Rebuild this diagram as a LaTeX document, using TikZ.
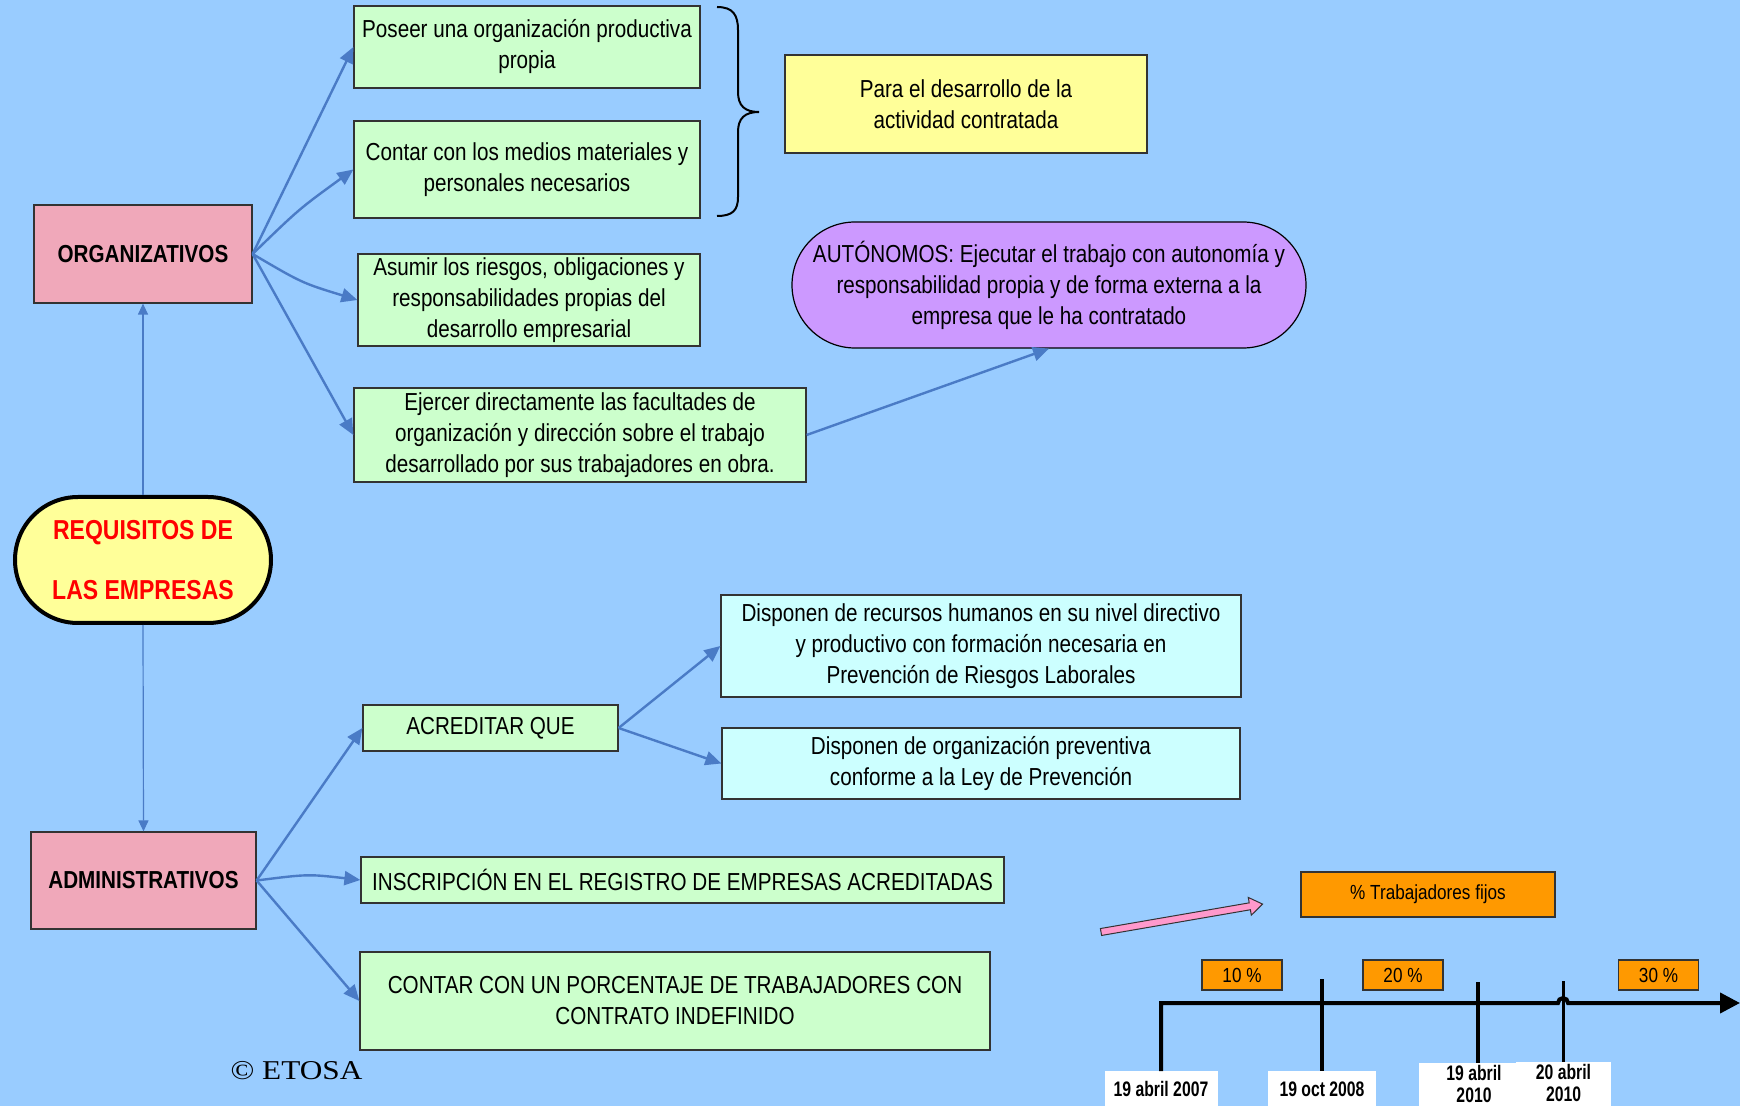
\documentclass[tikz,border=0pt]{standalone}
\usepackage{fontspec}
\setmainfont{Liberation Sans}[FakeStretch=0.84]
\newfontfamily\datefont{Liberation Sans}[FakeStretch=0.75]
\newfontfamily\etosafont{Liberation Serif}[FakeStretch=1.15]
\usetikzlibrary{arrows.meta}
\definecolor{bgblue}{HTML}{99CCFF}
\definecolor{pinkbox}{HTML}{F0A8BA}
\definecolor{greenbox}{HTML}{CCFFCC}
\definecolor{yellowbox}{HTML}{FFFF99}
\definecolor{cyanbox}{HTML}{CCFFFF}
\definecolor{purplebox}{HTML}{CC99FF}
\definecolor{orangebox}{HTML}{FF9900}
\definecolor{arrowblue}{HTML}{4A7BC6}
\definecolor{pinkarrow}{HTML}{FF99CC}
\begin{document}
\begin{tikzpicture}[x=0.5pt,y=-0.5pt,
  box/.style={draw=black!80, line width=0.6pt, align=center, inner sep=0pt,
    font=\fontsize{12.3}{15.5}\selectfont},
  gbox/.style={box, fill=greenbox},
  cbox/.style={box, fill=cyanbox},
  pbox/.style={box, fill=pinkbox, font=\fontsize{12.3}{15.5}\selectfont\bfseries},
  obox/.style={box, fill=orangebox, font=\fontsize{10.2}{12}\selectfont},
  datebox/.style={fill=white, draw=none, inner sep=0pt, anchor=north},
  datetext/.style={inner sep=0pt, align=center, font=\datefont\fontsize{10.5}{11}\selectfont\bfseries},
  link/.style={draw=arrowblue, line width=1.2pt, -{Triangle[length=8pt,width=7pt]}},
  vlink/.style={draw=arrowblue, line width=0.6pt, -{Triangle[length=5.5pt,width=5pt]}},
  tline/.style={draw=black, line width=2pt},
  tick/.style={draw=black, line width=1.6pt},
]
\useasboundingbox (0,0) rectangle (1740,1106);
\fill[bgblue] (0,0) rectangle (1740,1106);

% left column
\node[pbox, minimum width=109pt, minimum height=49pt] (org) at (143,254) {ORGANIZATIVOS};
\node[draw=black, line width=2pt, fill=yellowbox, rounded corners=31.5pt,
      minimum width=128pt, minimum height=63pt, inner sep=0pt, align=center, text=red,
      font=\fontsize{13.7}{30}\selectfont\bfseries] (req) at (143,560) {REQUISITOS DE\\LAS EMPRESAS};
\node[pbox, minimum width=112.5pt, minimum height=48.5pt] (adm) at (143.5,880.5) {ADMINISTRATIVOS};

% organizativos branch
\node[gbox, minimum width=173pt, minimum height=41pt] (b1) at (527,47) {Poseer una organización productiva\\propia};
\node[gbox, minimum width=173pt, minimum height=48.5pt] (b2) at (527,169.5) {Contar con los medios materiales y\\personales necesarios};
\node[box, fill=yellowbox, minimum width=181pt, minimum height=49pt] (yel) at (966,104) {Para el desarrollo de la\\actividad contratada};
\node[gbox, minimum width=171pt, minimum height=46pt] (b3) at (529,300) {Asumir los riesgos, obligaciones y\\responsabilidades propias del\\desarrollo empresarial};
\node[gbox, minimum width=226pt, minimum height=47pt] (b4) at (580,435) {Ejercer directamente las facultades de\\organización y dirección sobre el trabajo\\desarrollado por sus trabajadores en obra.};
\node[box, fill=purplebox, draw=black, rounded corners=31.5pt, minimum width=257pt, minimum height=63pt] (aut) at (1049,285)
  {AUTÓNOMOS: Ejecutar el trabajo con autonomía y\\responsabilidad propia y de forma externa a la\\empresa que le ha contratado};

% brace
\draw[line width=1pt] (717,7) .. controls (733,7) and (738,15) .. (738,30) -- (738,92)
  .. controls (738,106) and (745,112) .. (759,112)
  .. controls (745,112) and (738,118) .. (738,132) -- (738,197)
  .. controls (738,210) and (733,216) .. (717,216);

% administrativos branch
\node[gbox, minimum width=127.5pt, minimum height=23pt] (acr) at (490.5,728) {ACREDITAR QUE};
\node[cbox, minimum width=260pt, minimum height=51pt] (c1) at (981,646) {Disponen de recursos humanos en su nivel directivo\\y productivo con formación necesaria en\\Prevención de Riesgos Laborales};
\node[cbox, minimum width=259pt, minimum height=35.5pt] (c2) at (981,763.5) {Disponen de organización preventiva\\conforme a la Ley de Prevención};
\node[gbox, minimum width=321.5pt, minimum height=23pt] (ins) at (682.5,880) {INSCRIPCIÓN EN EL REGISTRO DE EMPRESAS ACREDITADAS};
\node[gbox, minimum width=315pt, minimum height=49pt] (con) at (675,1001) {CONTAR CON UN PORCENTAJE DE TRABAJADORES CON\\CONTRATO INDEFINIDO};

\node[inner sep=0pt, font=\etosafont\fontsize{13.6}{15}\selectfont] (etosa) at (296.5,1071) {© ETOSA};

% connectors
\draw[vlink] (req.north) -- (org.south);
\draw[vlink] (req.south) -- (adm.north);
\draw[link] (org.east) -- (b1.west);
\draw[link] (org.east) .. controls (299,209) .. (b2.west);
\draw[link] (org.east) .. controls (302,283) .. (b3.west);
\draw[link] (org.east) -- (b4.west);
\draw[link] (b4.east) -- (aut.south);
\draw[link] (adm.east) -- (acr.west);
\draw[link] (adm.east) .. controls (308,874) .. (ins.west);
\draw[link] (adm.east) -- (con.west);
\draw[link] (acr.east) -- (c1.west);
\draw[link] (acr.east) -- (c2.west);

% timeline part
\node[obox, minimum width=127pt, minimum height=22.5pt] (pct) at (1428,894.5) {\% Trabajadores fijos};
\node[obox, minimum width=40pt, minimum height=15pt] (p10) at (1242,975) {10 \%};
\node[obox, minimum width=40pt, minimum height=15pt] (p20) at (1403,975) {20 \%};
\node[obox, minimum width=40pt, minimum height=15pt] (p30) at (1658.5,975) {30 \%};

\begin{scope}[shift={(1101,932)}, rotate=9.8]
  \draw[fill=pinkarrow, draw=black!80, line width=0.5pt]
    (0,-3.5) -- (151,-3.5) -- (151,-9) -- (164,0) -- (151,9) -- (151,3.5) -- (0,3.5) -- cycle;
\end{scope}

\node[datebox, minimum width=56.5pt, minimum height=25pt] (d1) at (1161,1071) {};
\node[datebox, minimum width=54pt, minimum height=25pt] (d2) at (1322,1071) {};
\node[datebox, minimum width=48.5pt, minimum height=30pt] (d3) at (1467.5,1063) {};
\node[datebox, minimum width=47.5pt, minimum height=30pt] (d4) at (1563.5,1062) {};
\node[datetext] (d1t) at (1161,1089) {19 abril 2007};
\node[datetext] (d2t) at (1322,1089) {19 oct 2008};
\node[datetext] (d3t) at (1474,1084) {19 abril\\2010};
\node[datetext] (d4t) at (1563.5,1083) {20 abril\\2010};

\coordinate (hopL) at (1558,1003);
\coordinate (tend) at (1740,1003);
\draw[tline, -{Triangle[length=10pt,width=10pt]}] (d1.north) |- (hopL)
  arc[start angle=180, end angle=360, radius=5] -- (tend);
\coordinate (k2) at (1322,979);
\coordinate (k3a) at (1478,982);
\coordinate (k3b) at (1478,1063);
\coordinate (k4) at (1563.5,981);
\draw[tick] (k2) -- (d2.north);
\draw[tick] (k3a) -- (k3b);
\draw[tick] (k4) -- (d4.north);
\end{tikzpicture}
\end{document}
